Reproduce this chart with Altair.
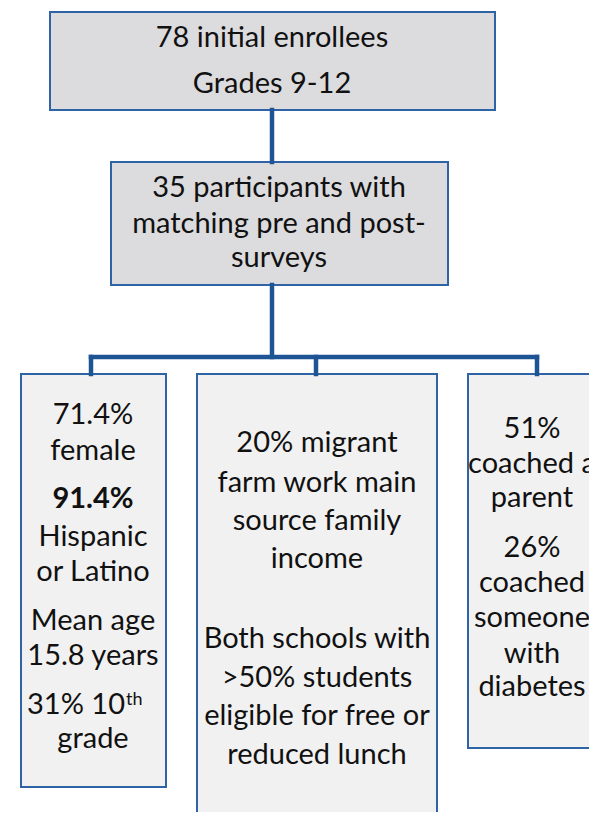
import altair as alt
import pandas as pd

# ---- content ----
top_lines = ["78 initial enrollees", "Grades 9-12"]
mid_lines = ["35 participants with", "matching pre and post-", "surveys"]
left_lines = ["71.4%", "female", "91.4%", "Hispanic", "or Latino", "Mean age", "15.8 years", "grade"]
left_bold = [False, False, True, False, False, False, False, False]
grade_line = "31% 10"
superscript = "th"
center_lines = ["20%  migrant", "farm work main", "source family", "income",
                "Both schools with", ">50% students", "eligible for free or", "reduced lunch"]
right_lines = ["51%", "coached a", "parent", "26%", "coached", "someone", "with", "diabetes"]

# ---- layout (page pixel coordinates) ----
boxes = pd.DataFrame([
    dict(x=50, x2=495, y=12, y2=110, fill="#dcdcde"),
    dict(x=111, x2=448, y=162, y2=285, fill="#dcdcde"),
    dict(x=21, x2=166, y=374, y2=787, fill="#f1f1f1"),
    dict(x=197, x2=437, y=374, y2=840, fill="#f1f1f1"),
    dict(x=468, x2=603, y=374, y2=748, fill="#f1f1f1"),
])
lines = pd.DataFrame([
    dict(x=272, x2=272, y=110, y2=162),
    dict(x=272, x2=272, y=285, y2=357),
    dict(x=91, x2=537, y=357, y2=357),
    dict(x=91, x2=91, y=357, y2=374),
    dict(x=316, x2=316, y=357, y2=374),
    dict(x=537, x2=537, y=357, y2=374),
])

rows = []
def add(texts, cx, ys, bold=None):
    for i, (t, y) in enumerate(zip(texts, ys)):
        rows.append(dict(t=t, x=cx, y=y, b=bool(bold and bold[i])))

add(top_lines, 272, [47, 93])
add(mid_lines, 279, [197, 233, 267])
add(left_lines, 93, [424, 460, 508, 546, 581, 630, 665, 748], left_bold)
add(center_lines, 317, [452, 492, 530, 568, 648, 687, 725, 764])
add(right_lines, 532, [438, 473, 507, 557, 592, 627, 663, 696])
texts = pd.DataFrame(rows)
grade_df = pd.DataFrame([dict(t=grade_line, x=125, y=714)])
sup = pd.DataFrame([dict(t=superscript, x=126, y=705)])

W, H = 581, 804
X = alt.Scale(domain=[8, 8 + W])
Y = alt.Scale(domain=[8 + H, 8])
FONT = "Lato"
FS = 29
INK = "#111111"

rects = alt.Chart(boxes).mark_rect(stroke="#2e64a6", strokeWidth=2, clip=True).encode(
    x=alt.X("x:Q", scale=X, axis=None), x2="x2:Q",
    y=alt.Y("y:Q", scale=Y, axis=None), y2="y2:Q",
    fill=alt.Fill("fill:N", scale=None),
)
conn = alt.Chart(lines).mark_rule(color="#1f5494", strokeWidth=4.5, strokeCap="square").encode(
    x=alt.X("x:Q", scale=X, axis=None), x2="x2:Q",
    y=alt.Y("y:Q", scale=Y, axis=None), y2="y2:Q",
)

def text_layer(df, weight="normal", align="center", size=FS):
    return alt.Chart(df).mark_text(font=FONT, fontSize=size, color=INK, fontWeight=weight,
                                   align=align, baseline="alphabetic", clip=True).encode(
        x=alt.X("x:Q", scale=X, axis=None),
        y=alt.Y("y:Q", scale=Y, axis=None),
        text="t:N",
    )

txt_n = text_layer(texts[~texts.b])
txt_b = text_layer(texts[texts.b], weight="bold")
txt_g = text_layer(grade_df, align="right")
txt_s = text_layer(sup, align="left", size=18)

chart = alt.layer(rects, conn, txt_n, txt_b, txt_g, txt_s).properties(
    width=W, height=H, padding=0, autosize=alt.AutoSizeParams(type="none"),
).configure_view(stroke=None)

chart.save("out.html", embed_options={"renderer": "svg", "actions": False})
